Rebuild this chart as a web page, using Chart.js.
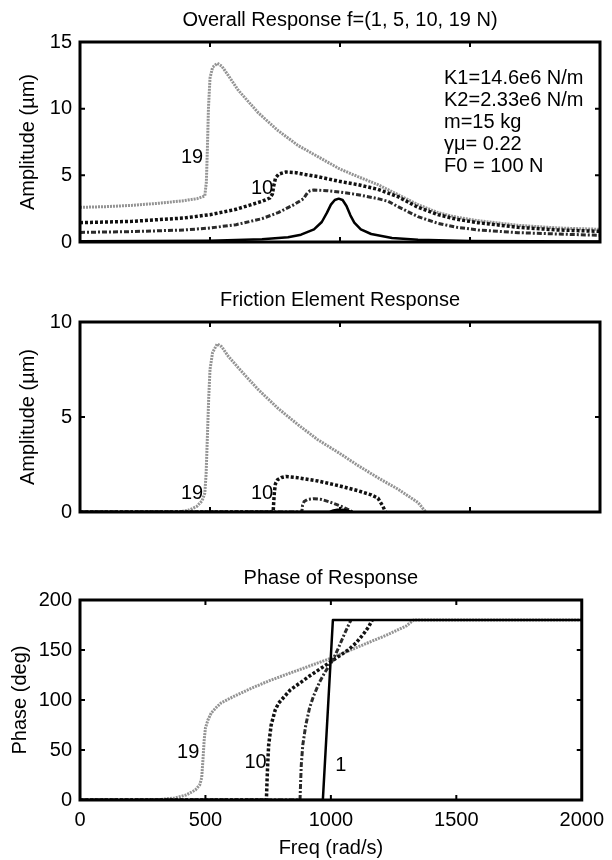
<!DOCTYPE html>
<html>
<head>
<meta charset="utf-8">
<script src="https://cdn.jsdelivr.net/npm/chart.js@4.4.0/dist/chart.umd.min.js"></script>
<style>
  body { margin: 0; background: #fff; width: 612px; height: 860px; position: relative; overflow: hidden; }
  canvas { position: absolute; left: 0; }
</style>
</head>
<body>
<canvas id="c1" width="612" height="262" style="top:0px"></canvas>
<canvas id="c2" width="612" height="262" style="top:270px"></canvas>
<canvas id="c3" width="612" height="320" style="top:540px"></canvas>
<script>
// x axis (rad/s)
const xTicks = [0, 500, 1000, 1500, 2000];

// Overall response amplitude (um)
const amp19F = [0,100,200,300,400,450,480,486,490,494,500,510,528,545,570,608,685,762,838,915,997,1069,1146,1223,1300,1377,1450,1531,1685,1838,2000];
const amp19A = [2.6,2.65,2.75,2.9,3.1,3.25,3.45,4.5,7,10,12.3,13.1,13.4,13.2,12.5,11.4,9.7,8.35,7.25,6.4,5.5,4.9,4.3,3.55,2.8,2.2,1.85,1.6,1.25,1.05,0.95];
const amp10F = [0,200,400,500,600,650,700,730,740,745,752,765,792,830,870,915,997,1069,1146,1223,1300,1377,1450,1531,1685,1838,2000];
const amp10A = [1.45,1.55,1.8,2.05,2.45,2.75,3.05,3.3,3.6,4.2,4.8,5.1,5.25,5.2,5.05,4.9,4.55,4.3,3.95,3.4,2.6,2.05,1.7,1.45,1.1,0.9,0.8];
const amp5F = [0,200,400,500,600,700,762,823,860,868,875,885,900,950,997,1069,1146,1185,1223,1300,1377,1450,1531,1685,1838,2000];
const amp5A = [0.72,0.78,0.9,1.05,1.3,1.75,2.2,2.8,3.25,3.5,3.7,3.85,3.9,3.85,3.75,3.55,3.25,3.05,2.65,1.9,1.4,1.1,0.9,0.7,0.6,0.5];
const amp1F = [0,500,700,800,850,900,930,950,965,980,995,1010,1025,1040,1055,1080,1120,1200,1300,1500,2000];
const amp1A = [0.05,0.1,0.2,0.35,0.55,0.95,1.5,2.2,2.8,3.15,3.25,3.15,2.7,2.0,1.45,0.95,0.6,0.3,0.16,0.08,0.03];

// Friction element amplitude (um)
const fr19F = [0,380,420,450,470,480,485,490,495,500,510,528,545,570,608,685,762,838,915,997,1069,1146,1223,1300,1330];
const fr19A = [0,0,0.1,0.3,0.6,1.0,2,4,6,7.5,8.4,8.85,8.7,8.2,7.6,6.45,5.45,4.6,3.8,3.1,2.45,1.8,1.2,0.5,0];
const fr10F = [0,743,745,748,752,760,775,792,830,915,997,1069,1120,1146,1165,1175];
const fr10A = [0,0,0.5,1.1,1.5,1.7,1.82,1.87,1.82,1.63,1.38,1.12,0.9,0.73,0.3,0];
const fr5F = [0,853,856,862,875,900,930,970,1010,1050];
const fr5A = [0,0,0.35,0.55,0.66,0.7,0.66,0.48,0.27,0];
const fr1F = [0,960,975,990,1005,1020,1035,1045];
const fr1A = [0,0,0.08,0.12,0.12,0.1,0.05,0];

// Phase (deg)
const ph19F = [0,300,377,423,460,477,485,490,495,500,510,523,545,562,608,685,762,838,915,992,1069,1146,1223,1300,1330,2000];
const ph19P = [0,0,2,5,10,15,22,40,60,72,80,87,93,97,103,112,120,127,134,141,149,157,165,174,180,180];
const ph10F = [0,743,745,748,752,762,778,792,838,915,992,1069,1100,1130,1150,1165];
const ph10P = [0,0,15,35,55,75,90,97,110,124,137,150,157,166,173,180];
const ph5F = [0,877,879,882,888,900,915,931,955,977,1008,1030,1054,1080];
const ph5P = [0,0,15,35,55,75,92,104,118,128,140,152,166,180];
const ph1F = [0,968,1008,2000];
const ph1P = [0,0,180,180];

const paramLines = ['K1=14.6e6 N/m', 'K2=2.33e6 N/m', 'm=15 kg', 'γμ= 0.22', 'F0 = 100 N'];

const FONT = 'Arial, "Liberation Sans", sans-serif';
const FS = 20;
const pts = (f, v) => f.map((x, i) => ({ x: x, y: v[i] }));

const style19 = { borderColor: '#949494', borderWidth: 3, borderDash: [2, 1] };
const style10 = { borderColor: '#111', borderWidth: 3.5, borderDash: [3, 2] };
const style5 = { borderColor: '#2b2b2b', borderWidth: 3, borderDash: [5, 2, 2, 2] };
const style1 = { borderColor: '#000', borderWidth: 2.5 };

// box, inward ticks, title and text notes, MATLAB-like
const framePlugin = {
  id: 'frame',
  afterDraw(chart, args, opts) {
    const ctx = chart.ctx, a = chart.chartArea;
    const xs = chart.scales.x, ys = chart.scales.y;
    ctx.save();
    ctx.strokeStyle = '#000';
    ctx.lineWidth = 2;
    const tl = 5;
    xTicks.slice(1, -1).forEach(v => {
      const px = xs.getPixelForValue(v);
      ctx.beginPath();
      ctx.moveTo(px, a.top); ctx.lineTo(px, a.top + tl);
      ctx.moveTo(px, a.bottom); ctx.lineTo(px, a.bottom - tl);
      ctx.stroke();
    });
    opts.yTicks.slice(1, -1).forEach(v => {
      const py = ys.getPixelForValue(v);
      ctx.beginPath();
      ctx.moveTo(a.left, py); ctx.lineTo(a.left + tl, py);
      ctx.moveTo(a.right, py); ctx.lineTo(a.right - tl, py);
      ctx.stroke();
    });
    ctx.lineWidth = 3;
    ctx.strokeRect(a.left, a.top, a.right - a.left, a.bottom - a.top);

    ctx.fillStyle = '#000';
    ctx.font = FS + 'px ' + FONT;
    ctx.textAlign = 'center';
    ctx.textBaseline = 'middle';
    ctx.fillText(opts.title, (a.left + a.right) / 2, a.top - opts.titleGap);

    (opts.labels || []).forEach(l => {
      ctx.fillText(l.text, xs.getPixelForValue(l.x), ys.getPixelForValue(l.y));
    });
    if (opts.box) {
      ctx.textAlign = 'left';
      const bx = xs.getPixelForValue(opts.box.x), by = ys.getPixelForValue(opts.box.y);
      opts.box.lines.forEach((t, i) => ctx.fillText(t, bx, by + i * 22));
    }
    ctx.restore();
  }
};

function makeChart(id, datasets, yMax, yStep, yTitle, yTitlePad, showX, pad, frame) {
  const yTicks = [];
  for (let v = 0; v <= yMax; v += yStep) yTicks.push(v);
  frame.yTicks = yTicks;
  return new Chart(document.getElementById(id), {
    type: 'line',
    data: { datasets: datasets },
    options: {
      responsive: false,
      animation: false,
      parsing: false,
      layout: { padding: pad },
      elements: { point: { radius: 0 }, line: { tension: 0, borderCapStyle: 'butt', borderJoinStyle: 'round' } },
      plugins: { legend: { display: false }, tooltip: { enabled: false }, frame: frame },
      scales: {
        x: {
          type: 'linear', min: 0, max: 2000,
          afterBuildTicks: s => { s.ticks = xTicks.map(v => ({ value: v })); },
          grid: { display: false, drawTicks: false },
          border: { display: false },
          ticks: { display: showX, color: '#000', font: { family: FONT, size: FS }, padding: 8, maxRotation: 0, callback: v => String(v) },
          title: { display: showX, text: 'Freq (rad/s)', color: '#000', font: { family: FONT, size: FS }, padding: { top: 2, bottom: 0 } },
          afterFit: s => { s.height = showX ? 60 : 0; }
        },
        y: {
          type: 'linear', min: 0, max: yMax,
          afterBuildTicks: s => { s.ticks = yTicks.map(v => ({ value: v })); },
          grid: { display: false, drawTicks: false },
          border: { display: false },
          ticks: { color: '#000', font: { family: FONT, size: FS }, padding: 8, callback: v => String(v) },
          title: { display: true, text: yTitle, color: '#000', font: { family: FONT, size: FS }, padding: { top: yTitlePad, bottom: 0 } },
          afterFit: s => { s.width = 80; }
        }
      }
    },
    plugins: [framePlugin]
  });
}

makeChart('c1', [
  Object.assign({ data: pts(amp1F, amp1A) }, style1),
  Object.assign({ data: pts(amp5F, amp5A) }, style5),
  Object.assign({ data: pts(amp10F, amp10A) }, style10),
  Object.assign({ data: pts(amp19F, amp19A) }, style19)
], 15, 5, 'Amplitude (\u00b5m)', 16, false, { top: 42, right: 12, bottom: 17, left: 0 }, {
  title: 'Overall Response f=(1, 5, 10, 19 N)', titleGap: 22,
  labels: [{ text: '19', x: 431, y: 6.36 }, { text: '10', x: 700, y: 4.0 }],
  box: { x: 1400, y: 12.25, lines: paramLines }
});

makeChart('c2', [
  Object.assign({ data: pts(fr1F, fr1A) }, style1),
  Object.assign({ data: pts(fr5F, fr5A) }, style5),
  Object.assign({ data: pts(fr10F, fr10A) }, style10),
  Object.assign({ data: pts(fr19F, fr19A) }, style19)
], 10, 5, 'Amplitude (\u00b5m)', 16, false, { top: 52, right: 12, bottom: 10, left: 0 }, {
  title: 'Friction Element Response', titleGap: 22,
  labels: [{ text: '19', x: 431, y: 0.95 }, { text: '10', x: 700, y: 0.95 }]
});

makeChart('c3', [
  Object.assign({ data: pts(ph1F, ph1P) }, style1),
  Object.assign({ data: pts(ph5F, ph5P) }, style5),
  Object.assign({ data: pts(ph10F, ph10P) }, style10),
  Object.assign({ data: pts(ph19F, ph19P) }, style19)
], 200, 50, 'Phase (deg)', 8, true, { top: 60, right: 12, bottom: 0, left: 0 }, {
  title: 'Phase of Response', titleGap: 22,
  labels: [{ text: '19', x: 431, y: 48 }, { text: '10', x: 700, y: 38 }, { text: '1', x: 1040, y: 35 }]
});
</script>
</body>
</html>
